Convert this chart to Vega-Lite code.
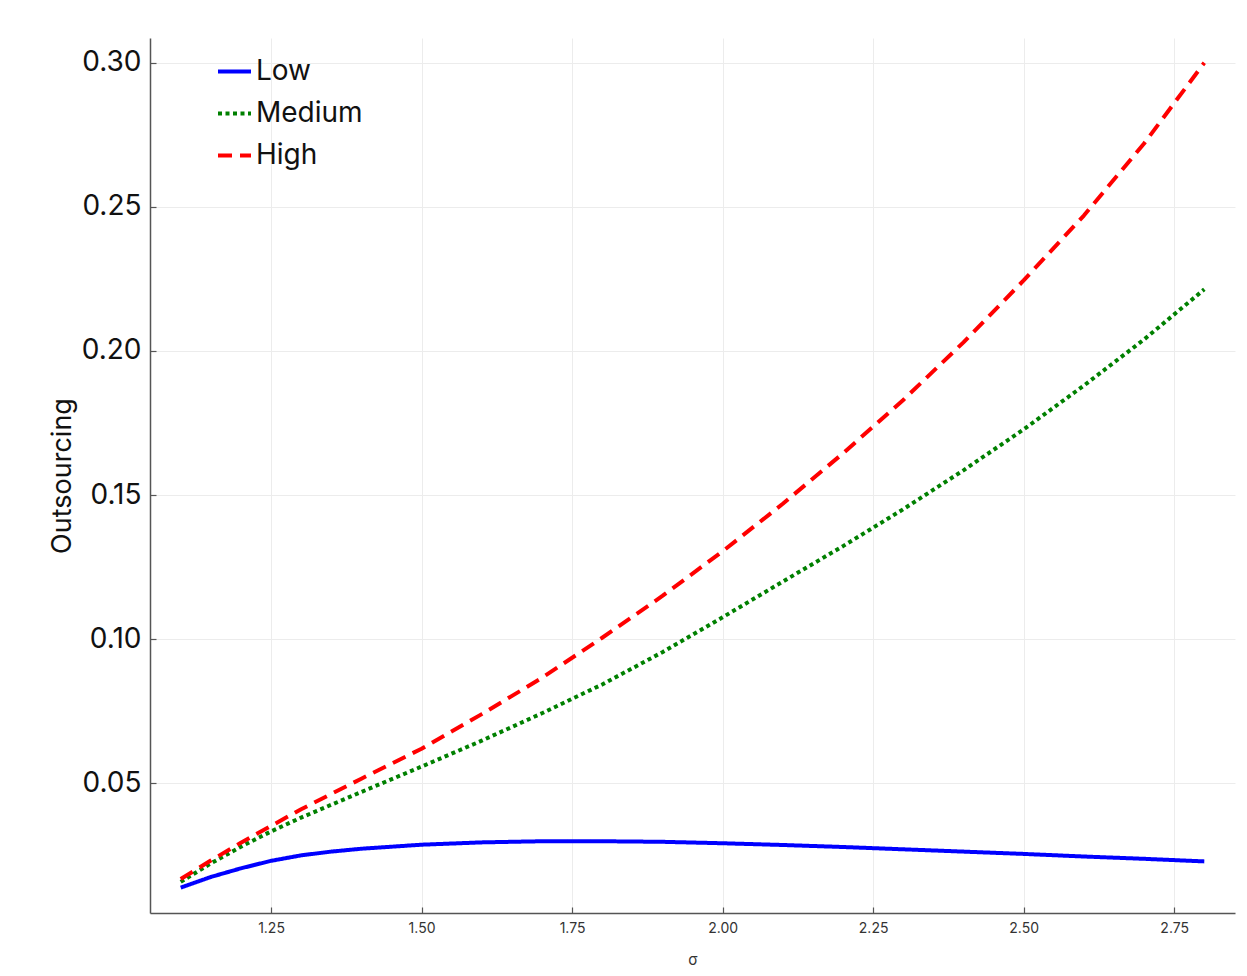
{
  "$schema": "https://vega.github.io/schema/vega-lite/v6.json",
  "width": 1085,
  "height": 875,
  "autosize": {"type": "none"},
  "padding": {"left": 150, "top": 38, "right": 12, "bottom": 63},
  "background": "white",
  "config": {
    "view": {"stroke": null},
    "font": "Inter"
  },
  "data": {
    "values": [
      {"sigma": 1.1, "level": "Low", "value": 0.0138},
      {"sigma": 1.15, "level": "Low", "value": 0.0175},
      {"sigma": 1.2, "level": "Low", "value": 0.0205},
      {"sigma": 1.25, "level": "Low", "value": 0.0231},
      {"sigma": 1.3, "level": "Low", "value": 0.0250},
      {"sigma": 1.35, "level": "Low", "value": 0.0263},
      {"sigma": 1.4, "level": "Low", "value": 0.0273},
      {"sigma": 1.5, "level": "Low", "value": 0.0287},
      {"sigma": 1.6, "level": "Low", "value": 0.0295},
      {"sigma": 1.7, "level": "Low", "value": 0.0299},
      {"sigma": 1.8, "level": "Low", "value": 0.0299},
      {"sigma": 1.9, "level": "Low", "value": 0.0297},
      {"sigma": 2.0, "level": "Low", "value": 0.0292},
      {"sigma": 2.1, "level": "Low", "value": 0.0286},
      {"sigma": 2.2, "level": "Low", "value": 0.0279},
      {"sigma": 2.3, "level": "Low", "value": 0.0271},
      {"sigma": 2.4, "level": "Low", "value": 0.0263},
      {"sigma": 2.5, "level": "Low", "value": 0.0255},
      {"sigma": 2.6, "level": "Low", "value": 0.0246},
      {"sigma": 2.7, "level": "Low", "value": 0.0238},
      {"sigma": 2.8, "level": "Low", "value": 0.0229},
      {"sigma": 1.1, "level": "Medium", "value": 0.0158},
      {"sigma": 1.15, "level": "Medium", "value": 0.0222},
      {"sigma": 1.2, "level": "Medium", "value": 0.0280},
      {"sigma": 1.25, "level": "Medium", "value": 0.0333},
      {"sigma": 1.3, "level": "Medium", "value": 0.0381},
      {"sigma": 1.4, "level": "Medium", "value": 0.0470},
      {"sigma": 1.5, "level": "Medium", "value": 0.0558},
      {"sigma": 1.6, "level": "Medium", "value": 0.0648},
      {"sigma": 1.7, "level": "Medium", "value": 0.0743},
      {"sigma": 1.8, "level": "Medium", "value": 0.0843},
      {"sigma": 1.9, "level": "Medium", "value": 0.0955},
      {"sigma": 2.0, "level": "Medium", "value": 0.1076},
      {"sigma": 2.1, "level": "Medium", "value": 0.1200},
      {"sigma": 2.2, "level": "Medium", "value": 0.1323},
      {"sigma": 2.3, "level": "Medium", "value": 0.1451},
      {"sigma": 2.4, "level": "Medium", "value": 0.1586},
      {"sigma": 2.5, "level": "Medium", "value": 0.1728},
      {"sigma": 2.6, "level": "Medium", "value": 0.1880},
      {"sigma": 2.7, "level": "Medium", "value": 0.2040},
      {"sigma": 2.8, "level": "Medium", "value": 0.2214},
      {"sigma": 1.1, "level": "High", "value": 0.0168},
      {"sigma": 1.15, "level": "High", "value": 0.0232},
      {"sigma": 1.2, "level": "High", "value": 0.0294},
      {"sigma": 1.25, "level": "High", "value": 0.0352},
      {"sigma": 1.3, "level": "High", "value": 0.0410},
      {"sigma": 1.4, "level": "High", "value": 0.0516},
      {"sigma": 1.5, "level": "High", "value": 0.0620},
      {"sigma": 1.6, "level": "High", "value": 0.0740},
      {"sigma": 1.7, "level": "High", "value": 0.0866},
      {"sigma": 1.8, "level": "High", "value": 0.1005},
      {"sigma": 1.9, "level": "High", "value": 0.1150},
      {"sigma": 2.0, "level": "High", "value": 0.1305},
      {"sigma": 2.1, "level": "High", "value": 0.1470},
      {"sigma": 2.2, "level": "High", "value": 0.1645},
      {"sigma": 2.3, "level": "High", "value": 0.1830},
      {"sigma": 2.4, "level": "High", "value": 0.2030},
      {"sigma": 2.5, "level": "High", "value": 0.2245},
      {"sigma": 2.6, "level": "High", "value": 0.2470},
      {"sigma": 2.7, "level": "High", "value": 0.2720},
      {"sigma": 2.8, "level": "High", "value": 0.3000}
    ]
  },
  "mark": {"type": "line", "strokeWidth": 4, "strokeCap": "butt", "strokeJoin": "round"},
  "encoding": {
    "x": {
      "field": "sigma",
      "type": "quantitative",
      "title": "σ",
      "scale": {"domain": [1.049, 2.851], "nice": false, "zero": false},
      "axis": {
        "values": [1.25, 1.5, 1.75, 2.0, 2.25, 2.5, 2.75],
        "format": ".2f",
        "grid": true,
        "gridColor": "#ececec",
        "gridWidth": 1,
        "domainColor": "#555555",
        "domainWidth": 1.5,
        "tickColor": "#555555",
        "tickSize": -6,
        "tickWidth": 1.2,
        "labelFontSize": 14,
        "labelColor": "#333333",
        "labelPadding": 14,
        "labelFont": "Inter",
        "titleFont": "Inter",
        "titleFontSize": 15,
        "titleFontWeight": "normal",
        "titleColor": "#333333",
        "titlePadding": 17
      }
    },
    "y": {
      "field": "value",
      "type": "quantitative",
      "title": "Outsourcing",
      "scale": {"domain": [0.005, 0.3086], "nice": false, "zero": false},
      "axis": {
        "values": [0.05, 0.1, 0.15, 0.2, 0.25, 0.3],
        "format": ".2f",
        "grid": true,
        "gridColor": "#ececec",
        "gridWidth": 1,
        "domainColor": "#555555",
        "domainWidth": 1.5,
        "tickColor": "#555555",
        "tickSize": -6,
        "tickWidth": 1.2,
        "labelFontSize": 28,
        "labelColor": "#111111",
        "labelPadding": 15,
        "labelFont": "Inter",
        "titleFont": "Inter",
        "titleFontSize": 27,
        "titleFontWeight": "normal",
        "titleColor": "#111111",
        "titlePadding": 5
      }
    },
    "color": {
      "field": "level",
      "type": "nominal",
      "title": null,
      "scale": {"domain": ["Low", "Medium", "High"], "range": ["#0000ff", "#008000", "#ff0000"]},
      "legend": {
        "orient": "none",
        "legendX": 66,
        "legendY": 15,
        "symbolType": "stroke",
        "symbolSize": 1089,
        "symbolStrokeWidth": 4,
        "labelFontSize": 28,
        "labelFont": "Inter",
        "labelColor": "#111111",
        "labelOffset": 3,
        "rowPadding": 9,
        "padding": 0
      }
    },
    "strokeDash": {
      "field": "level",
      "type": "nominal",
      "title": null,
      "scale": {"domain": ["Low", "Medium", "High"], "range": [[1, 0], [4, 3.5], [14, 8]]}
    }
  }
}
